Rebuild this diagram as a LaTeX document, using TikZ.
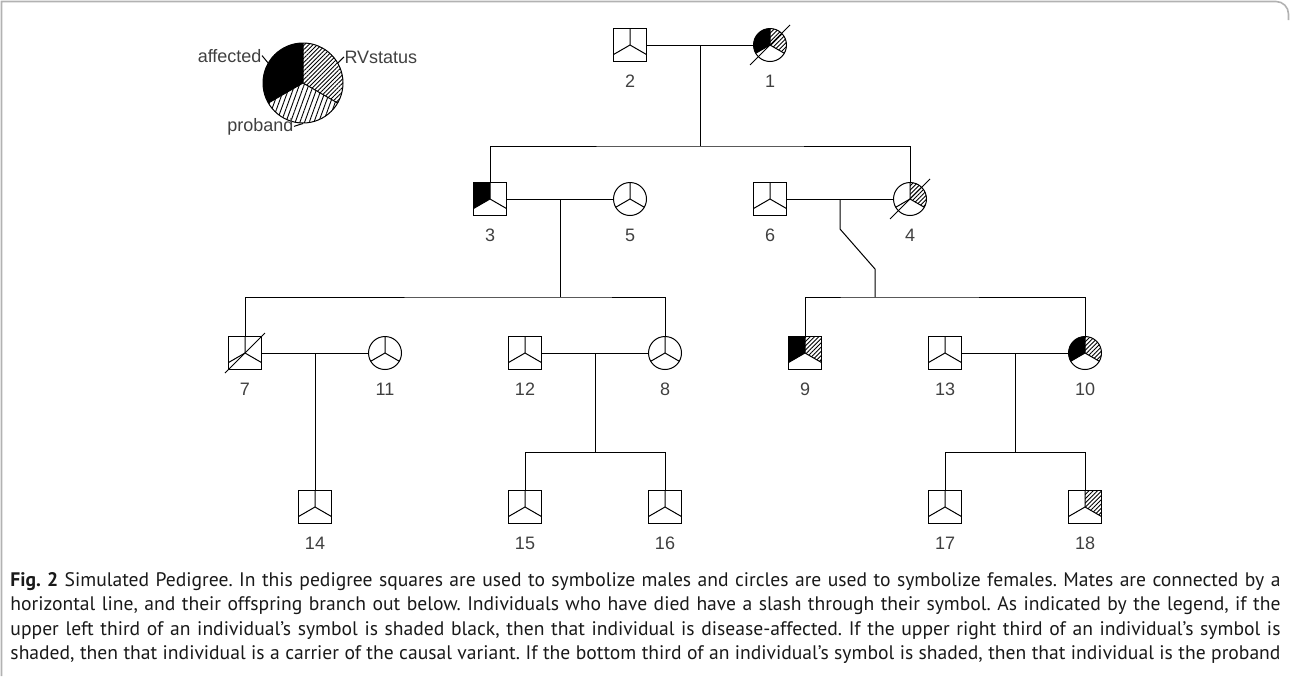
\documentclass[tikz,border=0pt]{standalone}
\usepackage{fontspec}
\setmainfont{Liberation Sans}
\newfontfamily\capfont{PT Sans}
\usetikzlibrary{calc,patterns.meta}
\frenchspacing

%% shading of the thirds of a symbol (used inside path picture)
\newcommand{\affpart}{\fill[black] (path picture bounding box.center) -- ++(90:60) arc[start angle=90,end angle=210,radius=60] -- cycle;}
\newcommand{\rvpart}{\fill[pattern={Lines[angle=45,distance=1.5pt,line width=0.45pt]}] (path picture bounding box.center) -- ++(-30:60) arc[start angle=-30,end angle=90,radius=60] -- cycle;}
\newcommand{\probpart}{\fill[pattern={Lines[angle=70,distance=2.2pt,line width=0.45pt]}] (path picture bounding box.center) -- ++(210:60) arc[start angle=210,end angle=330,radius=60] -- cycle;}
\newcommand{\ylines}{\draw (path picture bounding box.center) -- ++(90:60) (path picture bounding box.center) -- ++(210:60) (path picture bounding box.center) -- ++(330:60);}
%% slash through a deceased individual
\newcommand{\dead}[1]{\draw ([shift={(-20,-20)}]#1.center) -- ([shift={(20,20)}]#1.center);}

\tikzset{
	pedi/.style={path picture={#1\ylines}},
	pedi/.default={},
	male/.style={draw, rectangle, minimum size=16.5pt, inner sep=0pt, pedi},
	female/.style={draw, circle, minimum size=16.5pt, inner sep=0pt, pedi},
	num/.style={inner sep=0.5pt, font=\fontsize{9}{10}\selectfont, text=black!75},
	keytxt/.style={inner sep=0pt, font=\fontsize{9}{10}\selectfont, text=black!75},
	capline/.style={inner sep=0pt, anchor=base west, text=black!90, font=\capfont\fontsize{9.8}{11}\selectfont},
	frame/.style={gray!60, line width=0.8pt}
}

\begin{document}
\begin{tikzpicture}[x=0.5pt, y=0.5pt, line width=0.5pt]
	\useasboundingbox (0,0) rectangle (1290,-676);
	%% Rahmen
	\draw[frame] (1.5,-676) -- (1.5,-1.5) -- (1276,-1.5) arc[start angle=90,end angle=0,radius=12.5] -- (1288.5,-20);

	%% Legende
	\node[female, minimum size=40pt, pedi=\affpart\rvpart\probpart] (key) at (303,-83) {};
	\node[keytxt, anchor=base east] (kaff) at (262,-62) {affected};
	\node[keytxt, anchor=base west] (krv) at (344,-63) {RVstatus};
	\node[keytxt, anchor=base east] (kprob) at (294,-131) {proband};
	\draw (kaff.east) -- (key.150);
	\draw (krv.west) -- (key.30);
	\draw (kprob.east) -- (key.270);

	%%%%%%%%%%%%%%%%

	%% Generation I
	\node[male] (n2) at (630,-45) {};
	\node[female, pedi=\affpart\rvpart] (n1) at (770,-45) {};
	\dead{n1}
	\node[num] (t2) at (630,-81) {2};
	\node[num] (t1) at (770,-81) {1};

	%% Generation II
	\node[male, pedi=\affpart] (n3) at (490,-199) {};
	\node[female] (n5) at (630,-199) {};
	\node[male] (n6) at (770,-199) {};
	\node[female, pedi=\rvpart] (n4) at (910,-199) {};
	\dead{n4}
	\node[num] (t3) at (490,-235) {3};
	\node[num] (t5) at (630,-235) {5};
	\node[num] (t6) at (770,-235) {6};
	\node[num] (t4) at (910,-235) {4};

	%% Generation III
	\node[male] (n7) at (245,-353) {};
	\dead{n7}
	\node[female] (n11) at (385,-353) {};
	\node[male] (n12) at (525,-353) {};
	\node[female] (n8) at (665,-353) {};
	\node[male, pedi=\affpart\rvpart] (n9) at (805,-353) {};
	\node[male] (n13) at (945,-353) {};
	\node[female, pedi=\affpart\rvpart] (n10) at (1085,-353) {};
	\node[num] (t7) at (245,-389) {7};
	\node[num] (t11) at (385,-389) {11};
	\node[num] (t12) at (525,-389) {12};
	\node[num] (t8) at (665,-389) {8};
	\node[num] (t9) at (805,-389) {9};
	\node[num] (t13) at (945,-389) {13};
	\node[num] (t10) at (1085,-389) {10};

	%% Generation IV
	\node[male] (n14) at (315,-507) {};
	\node[male] (n15) at (525,-507) {};
	\node[male] (n16) at (665,-507) {};
	\node[male] (n17) at (945,-507) {};
	\node[male, pedi=\rvpart] (n18) at (1085,-507) {};
	\node[num] (t14) at (315,-543) {14};
	\node[num] (t15) at (525,-543) {15};
	\node[num] (t16) at (665,-543) {16};
	\node[num] (t17) at (945,-543) {17};
	\node[num] (t18) at (1085,-543) {18};

	%%%%%%%%%%%%%%%%

	%% Partner und Kinder
	\draw (n2) -- (n1);
	\coordinate (m1) at ($(n2)!.5!(n1)$);
	\coordinate (s1) at ($(m1)+(0,-101)$);
	\draw (m1) -- (s1);
	\draw (n3.north) |- (s1) -| (n4.north);

	\draw (n3) -- (n5);
	\coordinate (m2l) at ($(n3)!.5!(n5)$);
	\coordinate (s2l) at ($(m2l)+(0,-98)$);
	\draw (m2l) -- (s2l);
	\draw (n7.north) |- (s2l) -| (n8.north);

	\draw (n6) -- (n4);
	\coordinate (m2r) at ($(n6)!.5!(n4)$);
	\draw (m2r) -- ++(0,-30) -- ++(35,-40) -- ++(0,-28) coordinate (s2r);
	\draw (n9.north) |- (s2r) -| (n10.north);

	\draw (n7) -- (n11);
	\coordinate (m3a) at ($(n7)!.5!(n11)$);
	\draw (m3a) -- (n14.north);

	\draw (n12) -- (n8);
	\coordinate (m3b) at ($(n12)!.5!(n8)$);
	\coordinate (s3b) at ($(m3b)+(0,-99)$);
	\draw (m3b) -- (s3b);
	\draw (n15.north) |- (s3b) -| (n16.north);

	\draw (n13) -- (n10);
	\coordinate (m3c) at ($(n13)!.5!(n10)$);
	\coordinate (s3c) at ($(m3c)+(0,-99)$);
	\draw (m3c) -- (s3c);
	\draw (n17.north) |- (s3c) -| (n18.north);

	%% Bildunterschrift
	\node[capline] (c1) at (10,-586) {\makebox[635pt][s]{\textbf{Fig. 2} Simulated Pedigree. In this pedigree squares are used to symbolize males and circles are used to symbolize females. Mates are connected by a}};
	\node[capline] (c2) at (10,-610.5) {\makebox[635pt][s]{horizontal line, and their offspring branch out below. Individuals who have died have a slash through their symbol. As indicated by the legend, if the}};
	\node[capline] (c3) at (10,-635) {\makebox[635pt][s]{upper left third of an individual’s symbol is shaded black, then that individual is disease-affected. If the upper right third of an individual’s symbol is}};
	\node[capline] (c4) at (10,-659.5) {\makebox[635pt][s]{shaded, then that individual is a carrier of the causal variant. If the bottom third of an individual’s symbol is shaded, then that individual is the proband}};

%\draw (current bounding box.south west) rectangle (current bounding box.north east);
\end{tikzpicture}
\end{document}
